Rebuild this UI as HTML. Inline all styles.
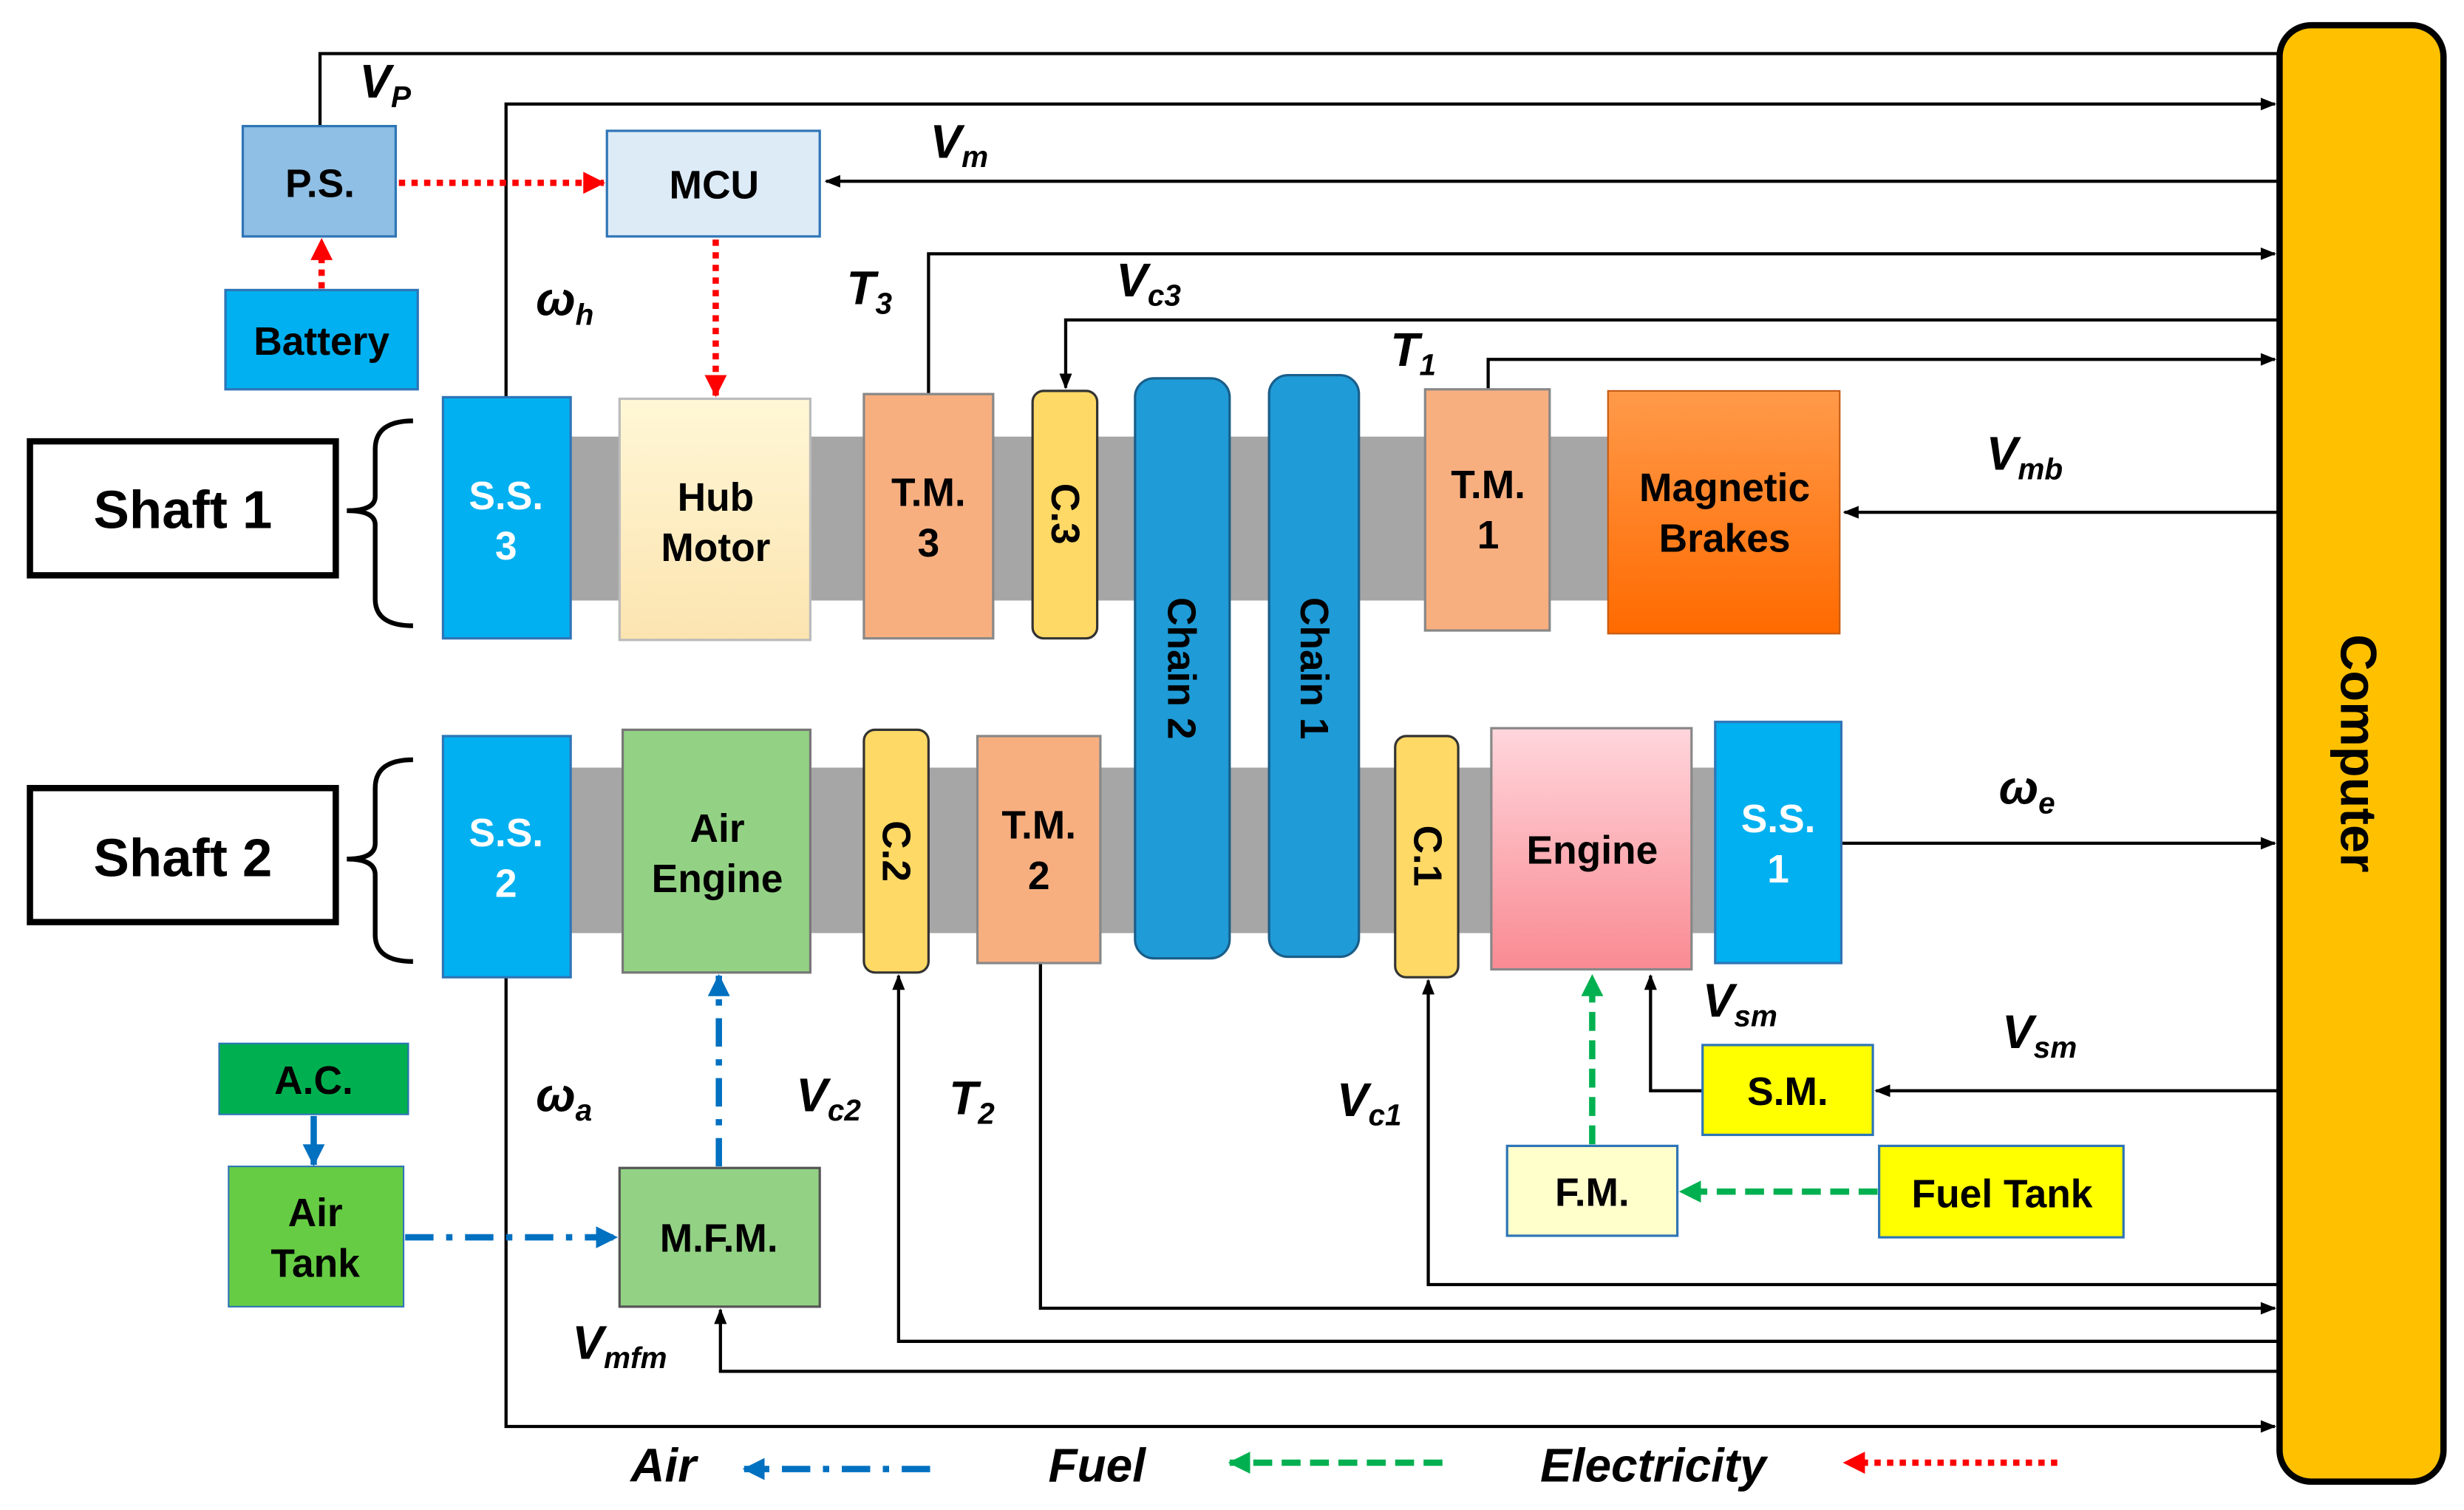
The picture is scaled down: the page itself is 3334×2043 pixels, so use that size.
<!DOCTYPE html>
<html><head><meta charset="utf-8"><style>
html,body{margin:0;padding:0;background:#fff;}
svg{display:block;}
text{font-family:"Liberation Sans",Arial,sans-serif;font-weight:bold;}
.l{font-style:italic;font-size:30px;fill:#000;}
.s{font-size:19px;}
.b{font-size:25px;text-anchor:middle;}
</style></head><body>
<svg width="3334" height="2043" viewBox="0 0 1563 958" preserveAspectRatio="none" xmlns="http://www.w3.org/2000/svg">
<defs>
<marker id="ak" markerWidth="10" markerHeight="10" refX="9" refY="5" orient="auto" markerUnits="userSpaceOnUse"><path d="M0,1 L10,5 L0,9 z" fill="#000"/></marker>
<marker id="ar" markerWidth="14" markerHeight="14" refX="13" refY="7" orient="auto" markerUnits="userSpaceOnUse"><path d="M0,0 L14,7 L0,14 z" fill="#f00"/></marker>
<marker id="ab" markerWidth="14" markerHeight="14" refX="13" refY="7" orient="auto" markerUnits="userSpaceOnUse"><path d="M0,0 L14,7 L0,14 z" fill="#0070C0"/></marker>
<marker id="ag" markerWidth="14" markerHeight="14" refX="13" refY="7" orient="auto" markerUnits="userSpaceOnUse"><path d="M0,0 L14,7 L0,14 z" fill="#00B050"/></marker>
<linearGradient id="hub" x1="0" y1="0" x2="0" y2="1"><stop offset="0" stop-color="#FFF7D6"/><stop offset="1" stop-color="#FCE4B0"/></linearGradient>
<linearGradient id="eng" x1="0" y1="0" x2="0" y2="1"><stop offset="0" stop-color="#FFD6DC"/><stop offset="1" stop-color="#F98A92"/></linearGradient>
<linearGradient id="mb" x1="0" y1="0" x2="0" y2="1"><stop offset="0" stop-color="#FF9A4A"/><stop offset="1" stop-color="#FF6A00"/></linearGradient>
</defs>

<!-- shafts -->
<rect x="362" y="277" width="660" height="104" fill="#A6A6A6"/>
<rect x="362" y="487" width="728" height="105" fill="#A6A6A6"/>

<!-- connectors black -->
<g stroke="#000" stroke-width="2" fill="none">
<polyline points="203,80 203,34 1445,34"/>
<polyline points="321,252 321,66 1443,66" marker-end="url(#ak)"/>
<polyline points="1445,115 524,115" marker-end="url(#ak)"/>
<polyline points="589,250 589,161 1443,161" marker-end="url(#ak)"/>
<polyline points="1445,203 676,203 676,246" marker-end="url(#ak)"/>
<polyline points="944,247 944,228 1443,228" marker-end="url(#ak)"/>
<polyline points="1445,325 1170,325" marker-end="url(#ak)"/>
<polyline points="1168,535 1443,535" marker-end="url(#ak)"/>
<polyline points="1445,692 1190,692" marker-end="url(#ak)"/>
<polyline points="1080,692 1047,692 1047,619" marker-end="url(#ak)"/>
<polyline points="1445,815 906,815 906,622" marker-end="url(#ak)"/>
<polyline points="660,611 660,830 1443,830" marker-end="url(#ak)"/>
<polyline points="1445,851 570,851 570,619" marker-end="url(#ak)"/>
<polyline points="1445,870 457,870 457,831" marker-end="url(#ak)"/>
<polyline points="321,620 321,905 1443,905" marker-end="url(#ak)"/>
</g>

<!-- Computer -->
<rect x="1446" y="16" width="104" height="924" rx="20" fill="#FFC000" stroke="#000" stroke-width="4"/>
<text transform="translate(1485,478) rotate(90)" font-size="32" text-anchor="middle">Computer</text>

<!-- Shaft labels -->
<rect x="19" y="280" width="194" height="85" fill="#fff" stroke="#000" stroke-width="4"/>
<text x="116" y="335" font-size="34" text-anchor="middle">Shaft 1</text>
<rect x="19" y="500" width="194" height="85" fill="#fff" stroke="#000" stroke-width="4"/>
<text x="116" y="556" font-size="34" text-anchor="middle">Shaft 2</text>
<g stroke="#000" stroke-width="3" fill="none">
<path d="M262,267 Q238,267 238,285 L238,315 Q238,324 220,324 Q238,324 238,333 L238,380 Q238,397 262,397"/>
<path d="M262,482 Q238,482 238,500 L238,535 Q238,545 220,545 Q238,545 238,555 L238,593 Q238,610 262,610"/>
</g>

<!-- Shaft 1 components -->
<rect x="281" y="252" width="81" height="153" fill="#00B0F0" stroke="#2E75B6" stroke-width="1.5"/>
<text x="321" y="323" class="b" fill="#fff">S.S.</text><text x="321" y="355" class="b" fill="#fff">3</text>
<rect x="393" y="253" width="121" height="153" fill="url(#hub)" stroke="#BBB" stroke-width="1.5"/>
<text x="454" y="324" class="b">Hub</text><text x="454" y="356" class="b">Motor</text>
<rect x="548" y="250" width="82" height="155" fill="#F8AF80" stroke="#888" stroke-width="1.5"/>
<text x="589" y="321" class="b">T.M.</text><text x="589" y="353" class="b">3</text>
<rect x="655" y="248" width="41" height="157" rx="7" fill="#FFD966" stroke="#333" stroke-width="1.5"/>
<text transform="translate(667,326) rotate(90)" class="b">C.3</text>
<rect x="720" y="240" width="60" height="368" rx="12" fill="#1F9BD7" stroke="#1A5E8A" stroke-width="1.5"/>
<text transform="translate(741,424) rotate(90)" class="b">Chain 2</text>
<rect x="805" y="238" width="57" height="369" rx="12" fill="#1F9BD7" stroke="#1A5E8A" stroke-width="1.5"/>
<text transform="translate(825,424) rotate(90)" class="b">Chain 1</text>
<rect x="904" y="247" width="79" height="153" fill="#F8AF80" stroke="#888" stroke-width="1.5"/>
<text x="944" y="316" class="b">T.M.</text><text x="944" y="348" class="b">1</text>
<rect x="1020" y="248" width="147" height="154" fill="url(#mb)" stroke="#C55A11" stroke-width="1"/>
<text x="1094" y="318" class="b">Magnetic</text><text x="1094" y="350" class="b">Brakes</text>

<!-- Shaft 2 components -->
<rect x="281" y="467" width="81" height="153" fill="#00B0F0" stroke="#2E75B6" stroke-width="1.5"/>
<text x="321" y="537" class="b" fill="#fff">S.S.</text><text x="321" y="569" class="b" fill="#fff">2</text>
<rect x="395" y="463" width="119" height="154" fill="#93D284" stroke="#777" stroke-width="1.5"/>
<text x="455" y="534" class="b">Air</text><text x="455" y="566" class="b">Engine</text>
<rect x="548" y="463" width="41" height="154" rx="7" fill="#FFD966" stroke="#333" stroke-width="1.5"/>
<text transform="translate(560,540) rotate(90)" class="b">C.2</text>
<rect x="620" y="467" width="78" height="144" fill="#F8AF80" stroke="#888" stroke-width="1.5"/>
<text x="659" y="532" class="b">T.M.</text><text x="659" y="564" class="b">2</text>
<rect x="885" y="467" width="40" height="153" rx="7" fill="#FFD966" stroke="#333" stroke-width="1.5"/>
<text transform="translate(897,543) rotate(90)" class="b">C.1</text>
<rect x="946" y="462" width="127" height="153" fill="url(#eng)" stroke="#888" stroke-width="1.5"/>
<text x="1010" y="548" class="b">Engine</text>
<rect x="1088" y="458" width="80" height="153" fill="#00B0F0" stroke="#2E75B6" stroke-width="1.5"/>
<text x="1128" y="528" class="b" fill="#fff">S.S.</text><text x="1128" y="560" class="b" fill="#fff">1</text>

<!-- Top-left boxes -->
<rect x="154" y="80" width="97" height="70" fill="#8FBFE4" stroke="#2E75B6" stroke-width="1.5"/>
<text x="203" y="125" class="b">P.S.</text>
<rect x="143" y="184" width="122" height="63" fill="#00B0F0" stroke="#2E75B6" stroke-width="1.5"/>
<text x="204" y="225" class="b">Battery</text>
<rect x="385" y="83" width="135" height="67" fill="#DDEBF7" stroke="#2E75B6" stroke-width="1.5"/>
<text x="453" y="126" class="b">MCU</text>

<!-- bottom boxes -->
<rect x="139" y="662" width="120" height="45" fill="#00B050" stroke="#2E75B6" stroke-width="1"/>
<text x="199" y="694" class="b">A.C.</text>
<rect x="145" y="740" width="111" height="89" fill="#66CC44" stroke="#2E75B6" stroke-width="1"/>
<text x="200" y="778" class="b">Air</text><text x="200" y="810" class="b">Tank</text>
<rect x="393" y="741" width="127" height="88" fill="#93D284" stroke="#555" stroke-width="1.5"/>
<text x="456" y="794" class="b">M.F.M.</text>
<rect x="1080" y="663" width="108" height="57" fill="#FFFF00" stroke="#2E75B6" stroke-width="1.5"/>
<text x="1134" y="701" class="b">S.M.</text>
<rect x="956" y="727" width="108" height="57" fill="#FFFFCC" stroke="#2E75B6" stroke-width="1.5"/>
<text x="1010" y="765" class="b">F.M.</text>
<rect x="1192" y="727" width="155" height="58" fill="#FFFF00" stroke="#2E75B6" stroke-width="1.5"/>
<text x="1270" y="766" class="b">Fuel Tank</text>

<!-- colored flows -->
<g fill="none" stroke-width="4">
<line x1="253" y1="116" x2="383" y2="116" stroke="#f00" stroke-dasharray="4,4" marker-end="url(#ar)"/>
<line x1="454" y1="152" x2="454" y2="251" stroke="#f00" stroke-dasharray="4,4" marker-end="url(#ar)"/>
<line x1="204" y1="183" x2="204" y2="152" stroke="#f00" stroke-dasharray="4,4" marker-end="url(#ar)"/>
<line x1="199" y1="708" x2="199" y2="739" stroke="#0070C0" marker-end="url(#ab)"/>
<line x1="257" y1="785" x2="391" y2="785" stroke="#0070C0" stroke-dasharray="18,8,4,8" marker-end="url(#ab)"/>
<line x1="456" y1="740" x2="456" y2="619" stroke="#0070C0" stroke-dasharray="18,8,4,8" marker-end="url(#ab)"/>
<line x1="1191" y1="756" x2="1066" y2="756" stroke="#00B050" stroke-dasharray="12,6" marker-end="url(#ag)"/>
<line x1="1010" y1="726" x2="1010" y2="619" stroke="#00B050" stroke-dasharray="12,6" marker-end="url(#ag)"/>
<line x1="590" y1="932" x2="472" y2="932" stroke="#0070C0" stroke-dasharray="18,8,4,8" marker-end="url(#ab)"/>
<line x1="915" y1="928" x2="780" y2="928" stroke="#00B050" stroke-dasharray="12,6" marker-end="url(#ag)"/>
<line x1="1305" y1="928" x2="1170" y2="928" stroke="#f00" stroke-dasharray="4,4" marker-end="url(#ar)"/>
</g>

<!-- labels -->
<text x="228" y="62" class="l">V<tspan class="s" dy="6">P</tspan></text>
<text x="590" y="100" class="l">V<tspan class="s" dy="6">m</tspan></text>
<text x="340" y="200" class="l">ω<tspan class="s" dy="6">h</tspan></text>
<text x="537" y="193" class="l">T<tspan class="s" dy="6">3</tspan></text>
<text x="708" y="188" class="l">V<tspan class="s" dy="6">c3</tspan></text>
<text x="882" y="232" class="l">T<tspan class="s" dy="6">1</tspan></text>
<text x="1260" y="298" class="l">V<tspan class="s" dy="6">mb</tspan></text>
<text x="1268" y="510" class="l">ω<tspan class="s" dy="6">e</tspan></text>
<text x="1270" y="665" class="l">V<tspan class="s" dy="6">sm</tspan></text>
<text x="1080" y="645" class="l">V<tspan class="s" dy="6">sm</tspan></text>
<text x="340" y="705" class="l">ω<tspan class="s" dy="6">a</tspan></text>
<text x="505" y="705" class="l">V<tspan class="s" dy="6">c2</tspan></text>
<text x="602" y="707" class="l">T<tspan class="s" dy="6">2</tspan></text>
<text x="848" y="708" class="l">V<tspan class="s" dy="6">c1</tspan></text>
<text x="363" y="862" class="l">V<tspan class="s" dy="6">mfm</tspan></text>
<text x="400" y="940" class="l">Air</text>
<text x="665" y="940" class="l">Fuel</text>
<text x="977" y="940" class="l">Electricity</text>
</svg>
</body></html>
